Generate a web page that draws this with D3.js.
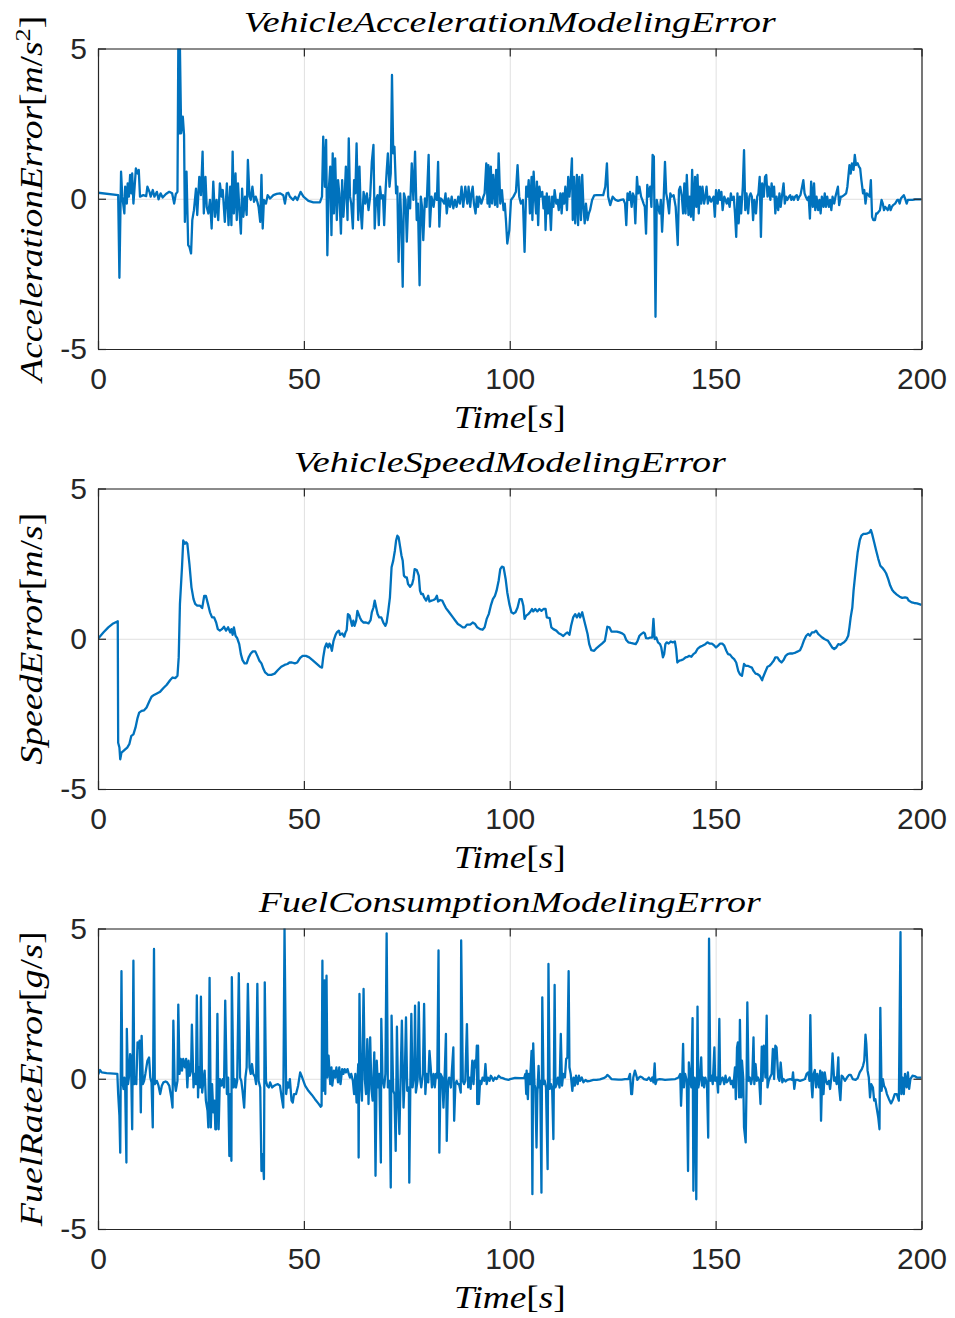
<!DOCTYPE html>
<html><head><meta charset="utf-8">
<script src="https://cdn.jsdelivr.net/npm/d3@7"></script>
<style>body{margin:0;background:#fff}svg{display:block}</style>
</head><body>
<svg id="chart" width="955" height="1318"></svg>
<script>
const xTicks = [0, 50, 100, 150, 200];
const yTicks = [-5, 0, 5];
const xDomain = [0, 200];
const yDomain = [-5, 5];

const panelTitles = ["VehicleAccelerationModelingError", "VehicleSpeedModelingError", "FuelConsumptionModelingError"];
const xLabel = [["Time", "i"], ["[", "n"], ["s", "i"], ["]", "n"]];
const yLabels = [
  [["AccelerationError", "i"], ["[", "n"], ["m", "i"], ["/", "n"], ["s", "i"], ["2", "sup"], ["]", "n"]],
  [["SpeedError", "i"], ["[", "n"], ["m", "i"], ["/", "n"], ["s", "i"], ["]", "n"]],
  [["FuelRateError", "i"], ["[", "n"], ["g", "i"], ["/", "n"], ["s", "i"], ["]", "n"]]
];

// [time s, error]
const accelerationError = [[0,0.2],[4.9,0.12],[5.2,-2.63],[5.6,0.9],[5.9,0.07],[6.4,-0.49],[6.6,0.4],[7.0,-0.16],[7.2,0.51],[7.5,0.07],[7.8,0.79],[8.1,0.18],[8.3,0.84],[8.6,-0.16],[8.9,0.4],[9.2,1.01],[9.6,0.84],[9.9,0.96],[10.2,0.07],[11.0,0.12],[11.7,0.09],[12.0,0.4],[12.5,0.23],[12.8,0.07],[13.3,0.29],[13.7,0.07],[14.3,0.23],[14.7,-0.02],[15.2,0.18],[15.7,0.04],[16.5,0.16],[17.3,0.23],[18.0,0.18],[18.5,-0.16],[18.9,0.16],[19.3,0.23],[19.5,5],[19.8,2.18],[19.9,5],[20.2,2.18],[20.6,2.73],[20.9,2.12],[21.1,-0.77],[21.5,0.9],[21.9,-1.54],[22.2,-1.6],[22.6,-1.82],[22.9,-0.71],[23.3,-0.38],[23.8,0.34],[24.1,-0.54],[24.6,0.73],[25.0,0.12],[25.4,1.57],[25.7,-0.49],[26.1,0.73],[26.4,-0.27],[26.8,-0.49],[27.2,-0.04],[27.6,-0.99],[28.0,0.57],[28.4,-0.6],[28.8,-0.04],[29.2,-0.71],[29.6,0.51],[30.0,0.07],[30.3,0.29],[30.8,-0.77],[31.3,0.51],[31.7,-0.88],[32.1,0.4],[32.4,-0.88],[32.7,1.57],[33.0,-0.49],[33.4,0.84],[33.7,-0.71],[34.0,0.51],[34.3,-0.27],[34.7,-1.16],[35.0,0.34],[35.3,-0.6],[35.7,0.07],[36.1,-0.54],[36.4,1.29],[36.8,0.07],[37.1,-0.04],[37.5,0.4],[37.9,-0.1],[38.3,0.07],[38.7,-0.1],[39.0,-0.27],[39.4,-0.77],[39.7,0.79],[40.0,-0.99],[40.3,-0.04],[40.8,-0.16],[41.2,0.12],[41.8,0.01],[42.6,0.12],[43.4,0.16],[44.2,0.18],[45.0,0.12],[45.4,-0.16],[45.8,0.18],[46.2,0.2],[46.6,0.07],[47.4,-0.04],[47.9,0.07],[48.4,-0.04],[49.2,0.23],[49.9,0.07],[51.1,-0.07],[52.3,-0.12],[53.9,-0.12],[54.4,0.07],[54.7,2.07],[55.1,0.4],[55.4,1.96],[55.7,-1.88],[56.0,0.18],[56.4,1.07],[56.7,-1.21],[57.0,1.51],[57.3,-0.49],[57.6,1.34],[58.0,-0.71],[58.3,0.62],[58.6,0.18],[59.0,-1.16],[59.3,0.62],[59.6,-0.6],[59.9,0.07],[60.2,1.07],[60.6,-0.71],[60.9,2.01],[61.2,0.07],[61.5,-0.16],[61.9,-0.99],[62.2,0.62],[62.5,0.18],[62.8,1.84],[63.2,-0.71],[63.5,1.07],[63.8,-0.38],[64.1,-0.99],[64.5,0.23],[64.9,-0.16],[65.3,0.18],[65.7,-0.38],[66.1,0.07],[66.5,1.23],[66.9,1.79],[67.2,-0.99],[67.5,-0.04],[67.9,0.12],[68.2,-0.88],[68.5,0.4],[68.8,0.01],[69.2,0.12],[69.5,-0.88],[69.8,0.18],[70.1,0.9],[70.4,1.51],[70.8,0.4],[71.1,0.84],[71.4,4.12],[71.7,1.51],[72.0,1.73],[72.4,0.18],[72.7,0.4],[73.0,-2.1],[73.4,0.18],[73.7,-0.93],[74.0,-2.93],[74.3,0.18],[74.7,-0.04],[75.0,-1.43],[75.4,0.07],[75.8,-0.32],[76.2,1.18],[76.6,-0.04],[77.0,1.57],[77.4,-0.71],[77.7,-0.16],[78.1,-2.88],[78.4,0.07],[78.7,-0.27],[79.0,-1.38],[79.4,0.01],[79.8,-0.27],[80.3,1.46],[80.6,-0.93],[81.0,0.07],[81.5,-0.27],[81.9,0.18],[82.3,-0.04],[82.6,1.23],[82.9,-0.93],[83.2,0.01],[83.6,-0.04],[84.1,-0.16],[84.4,0.18],[84.7,-0.49],[85.1,0.01],[85.5,-0.27],[85.9,0.07],[86.3,-0.32],[86.7,-0.04],[87.1,-0.27],[87.5,0.07],[87.9,-0.16],[88.3,0.4],[88.7,-0.27],[89.2,0.4],[89.7,-0.16],[90.0,0.4],[90.4,-0.27],[90.7,0.18],[91.0,0.4],[91.3,-0.16],[91.7,-0.49],[92.0,0.07],[92.3,-0.27],[92.6,0.07],[93.1,-0.16],[93.6,0.07],[93.9,0.18],[94.3,1.18],[94.6,-0.16],[94.8,1.12],[95.1,-0.27],[95.4,1.07],[95.7,-0.16],[96.0,0.79],[96.4,-0.21],[96.7,0.96],[97.0,-0.27],[97.3,1.51],[97.7,-0.16],[98.1,0.29],[98.5,-0.38],[98.8,-0.16],[99.1,-0.77],[99.4,-1.49],[99.9,-1.04],[100.3,-0.04],[100.9,0.07],[101.5,0.23],[101.9,1.12],[102.3,0.07],[102.7,-0.16],[103.2,-0.04],[103.6,-1.77],[104.0,0.4],[104.3,0.07],[104.6,0.62],[104.9,-0.49],[105.3,0.73],[105.5,-0.71],[105.8,0.9],[106.1,0.07],[106.4,-0.49],[106.6,0.57],[106.9,-0.88],[107.2,0.4],[107.5,0.07],[107.9,0.23],[108.2,-0.32],[108.5,0.07],[108.7,-1.04],[109.0,0.18],[109.3,-0.49],[109.6,0.07],[110.0,-1.04],[110.3,0.07],[110.6,-0.27],[110.9,0.29],[111.3,-0.16],[111.6,-0.04],[111.9,-0.38],[112.3,0.18],[112.6,-0.49],[112.9,0.18],[113.2,-0.16],[113.5,0.4],[113.9,-0.38],[114.2,0.73],[114.5,0.07],[114.8,0.62],[115.1,1.34],[115.3,-0.71],[115.6,0.73],[115.9,-0.82],[116.3,0.79],[116.6,-0.88],[116.9,0.73],[117.3,-0.71],[117.6,0.79],[117.9,-0.27],[118.2,-0.82],[118.5,-0.16],[118.9,-0.71],[119.2,-0.49],[119.5,-0.38],[120.0,-0.04],[120.5,0.11],[121.1,0.12],[121.9,0.12],[122.7,0.12],[123.2,0.4],[123.6,1.18],[123.9,0.07],[124.4,-0.21],[125.0,0.07],[125.7,-0.04],[126.3,-0.07],[127.0,-0.04],[127.6,-0.02],[128.0,-0.16],[128.3,-0.88],[128.6,0.18],[128.9,-0.04],[129.2,0.23],[129.6,-0.27],[129.9,0.18],[130.2,0.07],[130.5,-0.82],[130.9,0.73],[131.2,0.18],[131.5,0.4],[131.9,0.07],[132.2,-0.04],[132.5,-0.16],[132.8,-0.27],[133.1,-1.16],[133.4,0.46],[133.7,0.07],[134.1,0.4],[134.4,-0.27],[134.7,1.46],[135.0,1.4],[135.4,-3.93],[135.7,-0.04],[136.0,-0.27],[136.4,-0.49],[136.7,-0.04],[137.0,-1.1],[137.4,0.07],[137.7,1.23],[138.0,0.18],[138.3,-0.04],[138.7,-0.49],[139.0,0.18],[139.3,0.07],[139.8,0.12],[140.3,-0.27],[140.8,-1.54],[141.1,0.29],[141.4,0.4],[141.8,0.07],[142.1,-0.49],[142.4,0.51],[142.7,-0.49],[143.0,0.79],[143.4,-0.54],[143.7,0.07],[144.0,-0.6],[144.3,0.96],[144.6,-0.71],[145.0,0.73],[145.3,-0.27],[145.6,0.79],[145.9,-0.49],[146.2,0.4],[146.5,-0.16],[146.8,0.4],[147.2,-0.16],[147.5,0.07],[147.8,0.4],[148.1,-0.16],[148.5,0.07],[148.9,-0.1],[149.5,0.07],[149.8,-0.6],[150.1,0.29],[150.5,-0.16],[150.8,0.29],[151.1,-0.04],[151.4,0.23],[151.7,-0.38],[152.1,0.07],[152.4,-0.04],[152.7,-0.16],[153.0,0.01],[153.4,-0.27],[153.7,0.18],[154.0,-0.04],[154.4,0.07],[154.7,-0.49],[155.0,-1.27],[155.3,0.18],[155.6,-0.82],[155.9,0.07],[156.2,-0.49],[156.6,0.4],[156.9,1.62],[157.2,-0.38],[157.5,0.18],[157.9,-0.49],[158.2,0.07],[158.5,0.18],[158.8,0.07],[159.1,-0.71],[159.4,-0.04],[159.8,-0.49],[160.1,0.07],[160.4,0.18],[160.7,0.73],[161.0,-1.27],[161.3,0.51],[161.7,0.07],[162.0,0.73],[162.3,0.79],[162.6,0.07],[162.9,0.4],[163.3,-0.04],[163.6,0.51],[163.9,0.07],[164.2,0.4],[164.5,-0.49],[164.8,0.07],[165.2,-0.38],[165.5,0.18],[165.8,-0.27],[166.1,0.07],[166.5,0.51],[166.8,-0.16],[167.1,0.07],[167.4,-0.04],[167.8,0.07],[168.1,0.12],[168.4,-0.04],[168.7,0.07],[169.0,-0.04],[169.3,0.07],[169.7,0.12],[170.0,-0.04],[170.3,0.07],[170.6,0.12],[171.0,0.4],[171.3,0.62],[171.6,0.18],[171.9,0.07],[172.3,-0.04],[172.6,0.07],[172.9,-0.66],[173.2,0.57],[173.6,-0.27],[173.9,0.51],[174.2,-0.38],[174.5,0.07],[174.9,-0.38],[175.2,-0.04],[175.5,-0.49],[175.8,0.07],[176.2,-0.27],[176.5,0.18],[176.8,-0.27],[177.1,0.07],[177.5,-0.27],[177.8,-0.04],[178.1,-0.38],[178.4,0.07],[178.8,-0.16],[179.1,0.07],[179.4,0.23],[179.7,0.4],[180.0,-0.21],[180.4,0.07],[180.7,0.07],[181.2,0.12],[181.7,0.18],[182.0,0.4],[182.5,1.12],[182.8,0.84],[183.1,1.18],[183.5,0.96],[183.8,1.46],[184.1,1.12],[184.5,1.18],[184.8,1.07],[185.1,1.01],[185.4,0.62],[185.8,0.18],[186.1,0.29],[186.4,-0.16],[186.7,0.18],[187.1,0.12],[187.4,0.07],[187.7,0.62],[188.0,-0.6],[188.3,-0.71],[188.7,-0.71],[189.0,-0.49],[189.3,-0.49],[189.6,-0.43],[189.9,-0.38],[190.3,-0.04],[190.6,-0.16],[190.9,-0.38],[191.2,-0.27],[191.5,-0.32],[191.8,-0.38],[192.2,-0.21],[192.5,-0.38],[192.8,-0.27],[193.1,-0.21],[193.6,-0.16],[194.1,-0.04],[194.4,-0.04],[194.7,-0.16],[195.0,0.01],[195.4,0.07],[195.7,0.12],[196.0,0.01],[196.4,-0.16],[196.7,-0.04],[197.3,-0.04],[197.8,-0.04],[198.5,-0.02],[200,-0.02]];

const speedError = [[0,0],[1.3,0.21],[2.5,0.38],[3.7,0.51],[4.8,0.58],[4.9,-3.46],[5.2,-3.62],[5.4,-4.01],[5.7,-3.79],[6.2,-3.73],[6.6,-3.68],[7.1,-3.62],[7.6,-3.51],[8.1,-3.23],[8.6,-3.18],[9.1,-2.96],[9.6,-2.64],[10.0,-2.46],[10.6,-2.4],[11.2,-2.38],[11.8,-2.29],[12.5,-2.07],[13.0,-1.93],[13.6,-1.87],[14.3,-1.82],[15.1,-1.76],[15.9,-1.64],[16.7,-1.53],[17.5,-1.38],[18.1,-1.29],[18.8,-1.31],[19.3,-1.23],[19.6,-0.62],[19.9,1.16],[20.4,2.38],[20.7,3.27],[21.1,3.16],[21.4,3.21],[21.7,3.16],[22.2,2.49],[22.7,1.71],[23.2,1.32],[23.6,1.16],[24.1,1.1],[24.8,1.1],[25.3,1.02],[25.8,1.43],[26.2,1.43],[26.7,1.16],[27.2,0.88],[27.7,0.71],[28.2,0.71],[28.7,0.54],[29.1,0.32],[29.6,0.27],[30.1,0.32],[30.6,0.4],[31.1,0.27],[31.6,0.38],[32.1,0.21],[32.4,0.32],[32.7,0.13],[33.0,0.38],[33.4,0.1],[33.8,0.02],[34.3,-0.18],[34.7,-0.51],[35.1,-0.71],[35.6,-0.82],[36.1,-0.82],[36.6,-0.62],[37.1,-0.49],[37.6,-0.42],[38.2,-0.42],[38.7,-0.57],[39.2,-0.73],[39.7,-0.82],[40.2,-1.01],[40.6,-1.12],[41.3,-1.2],[42.1,-1.2],[42.9,-1.16],[43.7,-1.04],[44.5,-0.93],[45.3,-0.87],[46.0,-0.84],[46.5,-0.79],[47.1,-0.79],[47.8,-0.82],[48.4,-0.79],[49.1,-0.64],[49.7,-0.57],[50.5,-0.57],[51.3,-0.62],[52.1,-0.71],[53.0,-0.82],[53.9,-0.93],[54.4,-0.96],[54.7,-0.62],[55.1,-0.29],[55.5,-0.16],[55.9,-0.29],[56.2,-0.16],[56.5,-0.23],[56.8,-0.4],[57.2,-0.07],[57.7,0.13],[58.0,0.21],[58.5,0.27],[58.8,0.13],[59.3,0.18],[59.8,0.07],[60.1,0.21],[60.4,0.29],[60.7,0.82],[61.1,0.77],[61.4,0.6],[61.7,0.43],[62.0,0.6],[62.3,0.43],[62.7,0.6],[63.0,0.93],[63.3,0.82],[63.6,0.71],[64.0,0.6],[64.5,0.54],[65.1,0.54],[65.7,0.51],[66.2,0.62],[66.5,0.88],[66.9,1.04],[67.2,1.27],[67.5,1.07],[67.9,0.82],[68.3,0.71],[68.8,0.71],[69.3,0.54],[69.8,0.43],[70.1,0.54],[70.5,0.93],[70.9,1.38],[71.3,2.38],[71.7,2.6],[72.1,2.93],[72.4,3.27],[72.7,3.43],[73.0,3.38],[73.4,3.04],[73.7,2.77],[74.0,2.6],[74.3,2.1],[74.7,2.04],[75.0,2.04],[75.3,1.82],[75.8,1.73],[76.3,1.82],[76.6,1.99],[76.9,2.32],[77.4,2.29],[77.9,2.1],[78.2,1.6],[78.5,1.49],[78.9,1.49],[79.2,1.38],[79.7,1.27],[80.2,1.43],[80.5,1.24],[81.0,1.27],[81.5,1.29],[81.9,1.32],[82.3,1.43],[82.6,1.24],[83.1,1.29],[83.6,1.27],[84.0,1.16],[84.5,1.02],[85.0,0.93],[85.5,0.84],[86.2,0.71],[86.8,0.6],[87.4,0.49],[88.1,0.43],[88.6,0.38],[89.1,0.38],[89.6,0.47],[90.4,0.47],[91.0,0.54],[91.6,0.49],[92.1,0.38],[92.8,0.32],[93.4,0.3],[93.9,0.38],[94.4,0.66],[94.9,0.82],[95.4,1.1],[95.9,1.32],[96.4,1.43],[96.8,1.6],[97.3,1.93],[97.7,2.32],[98.1,2.4],[98.5,2.38],[99.0,1.99],[99.4,1.54],[99.9,1.16],[100.4,0.88],[100.9,0.84],[101.4,0.88],[101.9,1.04],[102.4,1.32],[102.9,1.32],[103.3,1.1],[103.6,0.66],[104.0,0.77],[104.5,0.82],[104.9,0.88],[105.4,0.99],[105.7,0.91],[106.2,0.99],[106.7,0.91],[107.2,0.99],[107.7,0.93],[108.2,0.99],[108.7,0.99],[109.0,0.71],[109.7,0.69],[110.1,0.38],[110.6,0.32],[111.3,0.27],[111.9,0.18],[112.6,0.13],[113.0,0.09],[113.5,0.16],[114.0,0.21],[114.5,0.13],[114.9,0.43],[115.4,0.71],[115.9,0.82],[116.3,0.71],[116.8,0.84],[117.1,0.71],[117.6,0.88],[117.9,0.71],[118.4,0.43],[118.9,0.16],[119.3,-0.18],[119.8,-0.38],[120.5,-0.4],[121.1,-0.31],[121.8,-0.23],[122.4,-0.16],[123.1,-0.07],[123.4,0.16],[123.7,0.4],[124.2,0.38],[124.7,0.24],[125.4,0.24],[126.0,0.24],[126.7,0.21],[127.3,0.18],[127.8,0.13],[128.3,-0.04],[128.8,-0.12],[129.4,-0.14],[130.1,-0.16],[130.6,-0.18],[131.0,-0.09],[131.5,0.1],[132.0,0.16],[132.5,0.21],[132.8,0.18],[133.1,0.02],[133.6,0.01],[134.1,0.04],[134.6,0.04],[134.9,0.66],[135.2,-0.01],[135.6,0.04],[136.0,-0.12],[136.5,-0.18],[136.8,-0.29],[137.2,-0.62],[137.5,-0.51],[137.8,-0.18],[138.1,-0.12],[138.6,-0.16],[139.1,-0.09],[139.6,-0.12],[140.1,-0.09],[140.4,-0.34],[140.7,-0.79],[141.2,-0.73],[141.7,-0.71],[142.2,-0.68],[142.7,-0.62],[143.2,-0.6],[143.6,-0.57],[144.1,-0.6],[144.6,-0.51],[145.1,-0.46],[145.6,-0.34],[146.2,-0.27],[146.8,-0.23],[147.5,-0.18],[148.0,-0.12],[148.5,-0.16],[149.1,-0.16],[149.7,-0.23],[150.1,-0.29],[150.6,-0.23],[151.1,-0.16],[151.6,-0.16],[152.1,-0.23],[152.6,-0.4],[153.0,-0.51],[153.5,-0.53],[154.0,-0.62],[154.5,-0.68],[155.0,-0.79],[155.5,-1.07],[155.9,-1.18],[156.4,-1.23],[156.9,-0.84],[157.3,-0.9],[157.8,-0.9],[158.3,-0.93],[158.8,-0.96],[159.2,-1.07],[159.7,-1.16],[160.2,-1.18],[160.7,-1.23],[161.3,-1.38],[161.5,-1.29],[162.1,-1.09],[162.6,-0.93],[163.1,-0.9],[163.6,-0.82],[164.1,-0.73],[164.5,-0.62],[165.0,-0.62],[165.5,-0.73],[166.0,-0.79],[166.5,-0.71],[167.0,-0.57],[167.5,-0.51],[168.1,-0.49],[168.7,-0.49],[169.4,-0.46],[170.0,-0.42],[170.5,-0.38],[171.0,-0.23],[171.5,-0.04],[172.0,0.1],[172.5,0.16],[172.9,0.1],[173.4,0.21],[173.9,0.21],[174.4,0.27],[174.9,0.16],[175.4,0.1],[175.9,0.04],[176.4,-0.01],[176.9,-0.04],[177.3,-0.07],[177.8,-0.18],[178.3,-0.29],[178.8,-0.34],[179.3,-0.29],[179.8,-0.18],[180.3,-0.2],[180.7,-0.16],[181.2,-0.12],[181.7,-0.04],[182.2,0.1],[182.5,0.38],[182.8,0.71],[183.2,1.04],[183.5,1.6],[184.0,2.27],[184.5,2.88],[185.0,3.27],[185.4,3.43],[185.9,3.49],[186.4,3.49],[186.9,3.51],[187.4,3.54],[187.7,3.62],[188.0,3.49],[188.5,3.21],[189.0,2.93],[189.5,2.66],[190.0,2.43],[190.5,2.36],[190.9,2.29],[191.4,2.18],[191.9,1.99],[192.4,1.77],[192.9,1.62],[193.4,1.54],[194.0,1.47],[194.7,1.4],[195.3,1.36],[196.0,1.38],[196.5,1.36],[196.9,1.27],[197.6,1.21],[198.2,1.19],[198.9,1.18],[200,1.13]];

const fuelRateError = [[0,0.13],[0.5,0.29],[0.9,0.21],[2.1,0.19],[4.7,0.16],[4.9,-0.51],[5.2,-1.23],[5.4,-2.46],[5.7,3.58],[5.9,-0.07],[6.2,-0.34],[6.4,0.04],[6.6,-0.29],[6.9,-2.79],[7.0,1.66],[7.3,-0.18],[7.5,0.04],[7.8,0.82],[8.0,0.71],[8.3,-1.68],[8.6,3.93],[8.8,-0.18],[9.1,0.04],[9.3,-0.18],[9.6,1.21],[9.8,1.04],[10.1,1.27],[10.4,-1.12],[10.6,1.43],[10.9,-0.18],[11.2,-0.07],[11.5,0.16],[12.0,0.6],[12.4,0.71],[12.7,0.04],[13.0,-0.12],[13.3,-1.62],[13.6,4.32],[13.8,-0.18],[14.3,-0.07],[14.7,-0.23],[15.1,-0.51],[15.5,-0.23],[15.9,-0.12],[16.4,-0.09],[16.8,-0.12],[17.3,-0.23],[17.8,-0.62],[18.1,-0.96],[18.3,1.93],[18.6,-0.07],[18.9,-0.4],[19.3,-0.07],[19.5,2.47],[19.8,0.16],[20.1,0.66],[20.4,0.27],[20.7,0.66],[21.1,0.38],[21.4,0.66],[21.7,-0.29],[22.0,0.6],[22.3,0.1],[22.6,0.27],[22.8,1.8],[23.2,-0.29],[23.5,0.16],[23.8,-0.18],[24.0,2.77],[24.3,-0.62],[24.5,0.38],[24.8,-0.29],[25.0,2.73],[25.3,-0.46],[25.6,-0.07],[25.9,0.27],[26.2,-0.73],[26.6,-1.07],[26.8,-1.62],[27.1,3.36],[27.4,-1.62],[27.7,-0.18],[28.0,-1.12],[28.3,-0.73],[28.5,-1.68],[28.7,-1.68],[29.0,2.16],[29.3,-1.68],[29.6,-0.01],[30.0,-0.23],[30.3,-0.01],[30.6,-0.29],[30.9,2.6],[31.3,-0.51],[31.6,0.04],[31.9,-2.57],[32.1,-0.51],[32.4,-2.73],[32.5,3.38],[32.9,-0.29],[33.2,-0.01],[33.5,-0.29],[33.8,-0.07],[34.2,3.51],[34.5,0.04],[34.8,-0.07],[35.1,-0.4],[35.5,-0.96],[35.8,0.04],[36.1,0.38],[36.4,3.16],[36.8,0.38],[37.1,0.16],[37.4,0.49],[37.7,0.16],[38.1,0.07],[38.4,-0.18],[38.7,3.16],[39.0,-0.07],[39.4,-0.29],[39.7,-3.07],[40.0,-2.51],[40.3,-3.34],[40.5,3.21],[40.8,-0.07],[41.1,-0.23],[41.5,-0.29],[41.8,-0.12],[42.3,-0.29],[42.8,-0.23],[43.2,-0.2],[43.7,-0.18],[44.2,-0.23],[44.6,-0.62],[45.0,-0.96],[45.3,5],[45.7,-0.51],[46.0,-0.12],[46.3,-0.29],[46.6,-0.01],[47.0,-0.73],[47.3,-0.79],[47.6,-0.51],[48.1,-0.51],[48.6,-0.23],[49.1,0.21],[49.6,0.04],[50.3,-0.23],[51.1,-0.4],[51.9,-0.53],[52.7,-0.68],[53.5,-0.82],[54.1,-0.93],[54.3,-0.9],[54.5,3.93],[54.7,-0.4],[55.0,3.27],[55.2,-0.51],[55.5,3.43],[55.7,0.04],[56.0,0.77],[56.4,-0.18],[56.7,0.38],[56.9,-0.23],[57.3,0.27],[57.6,0.04],[57.9,0.38],[58.3,-0.12],[58.6,0.38],[58.9,-0.18],[59.3,0.32],[59.6,0.16],[59.9,0.32],[60.2,0.21],[60.6,0.32],[60.9,0.16],[61.2,0.04],[61.5,0.16],[61.9,-0.07],[62.2,-0.51],[62.5,0.16],[62.8,-0.79],[63.2,0.49],[63.3,-2.62],[63.5,2.82],[63.8,-0.07],[64.1,-0.73],[64.5,2.99],[64.8,-0.01],[65.1,-0.51],[65.4,1.32],[65.7,-0.84],[66.1,1.38],[66.4,-0.34],[66.7,-0.73],[67.1,0.88],[67.4,-3.23],[67.7,0.6],[68.0,-0.29],[68.3,0.16],[68.7,-2.79],[68.8,1.99],[69.1,-0.01],[69.5,-0.29],[69.8,0.16],[70.1,4.84],[70.4,-0.29],[70.8,-0.07],[71.1,-3.62],[71.3,2.1],[71.7,-0.4],[72.0,-0.51],[72.3,-2.4],[72.6,1.73],[72.9,-0.73],[73.2,-1.84],[73.5,0.04],[73.8,1.93],[74.2,-0.96],[74.5,0.04],[74.8,2.04],[75.1,-0.4],[75.5,-0.29],[75.6,-3.46],[75.9,0.27],[76.1,2.16],[76.4,-0.29],[76.8,0.16],[77.0,2.43],[77.2,-0.46],[77.6,-0.07],[77.9,2.54],[78.2,0.04],[78.5,-0.29],[78.9,0.16],[79.2,2.49],[79.5,-0.51],[79.8,0.16],[80.2,-0.12],[80.5,0.93],[80.8,0.38],[81.1,-0.29],[81.5,0.16],[81.8,-0.29],[82.1,0.16],[82.4,0.04],[82.7,4.27],[82.9,-2.46],[83.2,0.16],[83.6,0.04],[83.9,-0.96],[84.2,0.16],[84.5,1.49],[84.7,-2.07],[85.0,-0.18],[85.3,0.04],[85.7,-0.29],[86.0,0.38],[86.3,1.04],[86.5,-1.4],[86.8,-0.18],[87.1,-0.07],[87.4,-0.18],[87.7,-0.18],[88.1,-0.46],[88.2,4.6],[88.6,-0.07],[88.9,-0.18],[89.2,-0.07],[89.6,1.82],[89.9,-0.29],[90.2,0.04],[90.5,-0.34],[90.9,0.6],[91.2,-0.18],[91.5,0.6],[91.8,0.38],[92.0,1.1],[92.1,-0.84],[92.3,1.1],[92.5,-0.84],[92.8,-0.07],[93.1,-0.18],[93.4,0.04],[93.8,-0.07],[94.1,0.49],[94.4,-0.18],[94.7,0.04],[95.1,-0.07],[95.4,0.1],[95.7,0.04],[96.0,-0.07],[96.4,0.04],[96.8,-0.01],[97.3,0.1],[97.8,0.04],[98.3,0.02],[98.9,-0.01],[99.7,-0.04],[100.1,-0.01],[101.3,0.03],[102.5,0.02],[103.5,0.02],[103.8,0.16],[104.0,-0.51],[104.1,0.27],[104.4,-0.68],[104.6,0.16],[104.9,-0.18],[105.3,0.93],[105.5,-3.84],[105.7,1.18],[106.0,-0.18],[106.2,-0.29],[106.5,-2.29],[106.7,-0.51],[107.0,0.43],[107.2,-0.29],[107.4,-0.07],[107.7,-3.79],[107.9,2.71],[108.2,-0.18],[108.5,-0.07],[108.8,-0.29],[109.2,-3.01],[109.4,3.82],[109.7,-0.34],[110.0,-0.18],[110.3,-0.34],[110.6,-2.01],[110.9,3.12],[111.1,-0.29],[111.4,-0.18],[111.7,0.04],[112.1,-0.29],[112.4,1.49],[112.7,-0.23],[113.0,0.16],[113.4,0.04],[113.7,0.66],[114.0,0.71],[114.3,3.58],[114.5,0.38],[114.8,0.16],[115.2,-0.4],[115.5,0.04],[115.8,-0.23],[116.1,0.1],[116.5,-0.18],[116.8,0.1],[117.1,-0.07],[117.5,0.04],[117.9,-0.12],[118.4,-0.04],[118.9,-0.09],[119.5,-0.07],[120.3,-0.04],[121.1,-0.04],[121.9,-0.02],[122.8,0.02],[123.4,0.07],[123.7,0.13],[124.2,0.07],[124.7,-0.01],[125.5,-0.02],[126.4,-0.03],[127.2,-0.03],[128.0,-0.01],[128.8,-0.01],[129.2,0.16],[129.5,-0.51],[129.7,-0.51],[130.0,0.04],[130.4,0.27],[130.7,0.13],[131.0,-0.04],[131.4,0.04],[131.7,0.07],[132.2,0.04],[132.6,-0.01],[133.3,-0.04],[133.8,0.04],[134.3,-0.07],[134.6,0.04],[134.9,-0.12],[135.2,0.51],[135.4,-0.18],[135.7,-0.04],[136.4,-0.01],[137.0,-0.02],[137.7,-0.04],[138.5,-0.03],[139.4,-0.02],[140.2,-0.01],[141.0,0.04],[141.4,0.16],[141.6,-0.9],[141.9,0.1],[142.1,1.16],[142.3,-0.29],[142.6,0.16],[142.8,0.04],[143.0,-0.07],[143.3,-3.07],[143.5,0.54],[143.8,0.04],[144.1,-0.29],[144.4,2.02],[144.6,-3.73],[144.9,0.04],[145.1,-0.18],[145.3,-4.01],[145.6,2.4],[145.8,-0.29],[146.2,0.04],[146.5,0.71],[146.7,-0.23],[147.0,0.04],[147.2,-0.29],[147.5,0.04],[147.9,-0.18],[148.2,-1.96],[148.4,4.66],[148.7,-0.07],[149.0,0.1],[149.3,-0.18],[149.7,1.04],[149.9,-0.07],[150.3,0.04],[150.6,-0.46],[150.9,1.99],[151.1,-0.18],[151.4,-0.01],[151.7,0.04],[152.1,-0.18],[152.4,0.1],[152.7,-0.12],[153.0,-0.07],[153.4,0.04],[153.7,-0.18],[154.0,-0.07],[154.3,-0.29],[154.7,0.38],[154.9,-0.68],[155.2,1.04],[155.4,1.21],[155.7,-0.62],[155.9,1.96],[156.2,-0.62],[156.4,0.6],[156.7,0.04],[156.9,-1.62],[157.3,-2.12],[157.5,-0.29],[157.7,2.54],[158.0,-0.07],[158.3,0.04],[158.6,-0.18],[158.9,0.04],[159.2,1.38],[159.4,-0.18],[159.7,0.49],[160.0,-0.07],[160.3,0.04],[160.6,-0.07],[160.9,-0.84],[161.2,1.07],[161.4,-0.07],[161.7,1.1],[162.1,0.04],[162.4,2.1],[162.6,-0.29],[162.9,-0.07],[163.2,0.04],[163.6,0.16],[163.9,0.99],[164.2,-0.01],[164.5,1.1],[164.8,1.04],[165.2,0.04],[165.5,-0.07],[165.8,0.54],[166.2,-0.12],[166.5,-0.01],[167.0,-0.09],[167.4,-0.04],[168.1,-0.01],[168.6,-0.04],[168.8,0.21],[169.1,-0.34],[169.4,-0.04],[169.9,-0.04],[170.5,-0.07],[171.2,-0.04],[171.7,-0.01],[172.1,0.16],[172.5,0.21],[172.8,-0.07],[173.0,2.12],[173.3,-0.23],[173.5,-0.62],[173.8,0.16],[174.1,0.29],[174.4,-0.29],[174.7,0.16],[175.1,-0.29],[175.4,0.27],[175.6,-1.4],[175.9,0.21],[176.2,-0.51],[176.5,0.21],[176.8,-0.07],[177.1,-0.18],[177.5,-0.07],[177.8,-0.34],[178.1,0.04],[178.4,0.84],[178.8,-0.07],[179.1,0.04],[179.4,-0.18],[179.8,0.71],[180.0,-0.29],[180.3,-0.71],[180.6,0.1],[180.9,0.07],[181.4,-0.07],[181.9,0.04],[182.4,0.13],[182.8,0.13],[183.3,-0.01],[184.0,-0.04],[184.5,0.02],[185.0,0.21],[185.5,0.32],[185.8,0.43],[186.1,0.6],[186.4,1.47],[186.6,1.16],[186.9,0.27],[187.2,0.04],[187.5,-0.62],[187.8,-0.18],[188.2,-0.29],[188.5,-0.73],[188.8,-0.68],[189.1,-0.96],[189.5,-1.29],[189.8,-1.68],[190.0,2.36],[190.3,-0.4],[190.6,-0.01],[190.9,-0.23],[191.3,-0.34],[191.6,-0.51],[192.1,-0.68],[192.6,-0.82],[193.1,-0.68],[193.5,-0.51],[194.0,-0.51],[194.5,-0.73],[194.9,4.88],[195.1,-0.51],[195.4,0.04],[195.7,-0.51],[196.0,0.16],[196.4,-0.29],[196.7,0.21],[197.0,-0.34],[197.3,-0.01],[197.8,0.1],[198.3,0.09],[198.9,0.04],[200,0.04]];

const seriesList = [accelerationError, speedError, fuelRateError];

// ---- layout ----
const plotLeft = 98, plotRight = 921.5, plotH = 300.5;
const panelTops = [48.5, 488.5, 928.5];
const lineColor = "#0072BD";
const axisColor = "#262626";
const gridColor = "#e0e0e0";
const titleLen = [532, 432, 502];
const yLabelLen = [366, 252, 295];
const tickFont = "'Liberation Sans', Helvetica, Arial, sans-serif";
const mathFont = "'Liberation Serif', 'Times New Roman', serif";

const svg = d3.select("#chart");

function addRich(textSel, parts) {
  parts.forEach(([s, kind]) => {
    const t = textSel.append("tspan").text(s);
    if (kind === "i") t.attr("font-style", "italic");
    else if (kind === "n") t.attr("font-style", "normal");
    else if (kind === "sup") t.attr("font-style", "normal").attr("font-size", "0.7em").attr("baseline-shift", "super");
  });
}

panelTops.forEach((top, i) => {
  const x = d3.scaleLinear().domain(xDomain).range([plotLeft, plotRight]);
  const y = d3.scaleLinear().domain(yDomain).range([top + plotH, top]);
  const g = svg.append("g");

  // grid
  const gx = g.append("g").attr("transform", `translate(0,${top + plotH})`)
    .call(d3.axisBottom(x).tickValues(xTicks).tickSize(-plotH).tickFormat(""));
  gx.select(".domain").remove();
  gx.selectAll("line").attr("stroke", gridColor).attr("stroke-width", 1);
  const gy = g.append("g").attr("transform", `translate(${plotLeft},0)`)
    .call(d3.axisLeft(y).tickValues(yTicks).tickSize(-(plotRight - plotLeft)).tickFormat(""));
  gy.select(".domain").remove();
  gy.selectAll("line").attr("stroke", gridColor).attr("stroke-width", 1);

  // clip + line
  const cid = "clip" + i;
  g.append("clipPath").attr("id", cid).append("rect")
    .attr("x", plotLeft).attr("y", top).attr("width", plotRight - plotLeft).attr("height", plotH);
  const line = d3.line().x(d => x(d[0])).y(d => y(d[1]));
  g.append("path").datum(seriesList[i]).attr("clip-path", `url(#${cid})`)
    .attr("d", line).attr("fill", "none").attr("stroke", lineColor)
    .attr("stroke-width", 2.3).attr("stroke-linejoin", "round");

  // axes
  const fmt = d => String(d);
  const axB = g.append("g").attr("transform", `translate(0,${top + plotH})`)
    .call(d3.axisBottom(x).tickValues(xTicks).tickSizeInner(-8).tickSizeOuter(0).tickPadding(19).tickFormat(fmt));
  const axT = g.append("g").attr("transform", `translate(0,${top})`)
    .call(d3.axisTop(x).tickValues(xTicks).tickSizeInner(-8).tickSizeOuter(0).tickFormat(""));
  const axL = g.append("g").attr("transform", `translate(${plotLeft},0)`)
    .call(d3.axisLeft(y).tickValues(yTicks).tickSizeInner(-8).tickSizeOuter(0).tickPadding(11).tickFormat(fmt));
  const axR = g.append("g").attr("transform", `translate(${plotRight},0)`)
    .call(d3.axisRight(y).tickValues(yTicks).tickSizeInner(-8).tickSizeOuter(0).tickFormat(""));
  [axB, axT, axL, axR].forEach(a => {
    a.select(".domain").attr("stroke", axisColor).attr("stroke-width", 1.2);
    a.selectAll(".tick line").attr("stroke", axisColor).attr("stroke-width", 1.2);
    a.selectAll("text").attr("fill", axisColor).attr("font-family", tickFont).attr("font-size", 30);
  });

  // title
  g.append("text").attr("x", (plotLeft + plotRight) / 2).attr("y", top - 17)
    .attr("text-anchor", "middle").attr("font-family", mathFont).attr("font-size", 30)
    .attr("font-style", "italic").attr("fill", "#000")
    .attr("textLength", titleLen[i]).attr("lengthAdjust", "spacingAndGlyphs")
    .text(panelTitles[i]);

  // x label
  const xl = g.append("text").attr("x", (plotLeft + plotRight) / 2).attr("y", top + plotH + 79)
    .attr("text-anchor", "middle").attr("font-family", mathFont).attr("font-size", 31)
    .attr("fill", "#000").attr("textLength", 112).attr("lengthAdjust", "spacingAndGlyphs");
  addRich(xl, xLabel);

  // y label
  const cy = top + plotH / 2;
  const yl = g.append("text").attr("transform", `translate(42,${cy}) rotate(-90)`)
    .attr("text-anchor", "middle").attr("font-family", mathFont).attr("font-size", 31)
    .attr("fill", "#000").attr("textLength", yLabelLen[i]).attr("lengthAdjust", "spacingAndGlyphs");
  addRich(yl, yLabels[i]);
});
</script>
</body></html>
